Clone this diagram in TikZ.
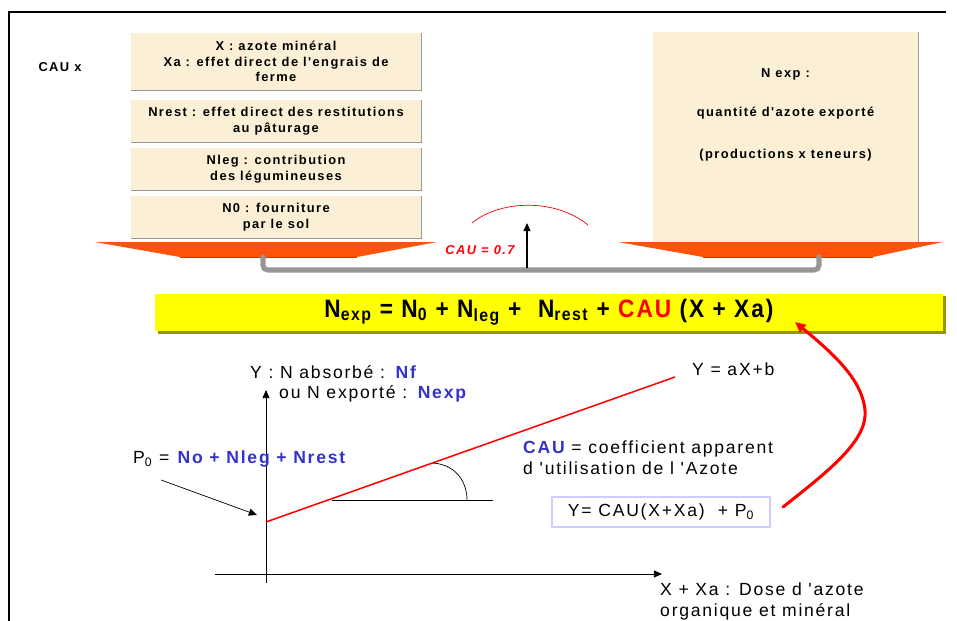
\documentclass[tikz,border=0pt]{standalone}
\usepackage{fontspec}
\setmainfont{Liberation Sans}
\newfontfamily\spacedfont[LetterSpace=11]{Liberation Sans}
\newfontfamily\widefont[LetterSpace=10]{Liberation Sans}
\newfontfamily\narrowfont[FakeStretch=0.9,LetterSpace=8]{Liberation Sans}
\usetikzlibrary{arrows.meta,positioning,backgrounds}

\definecolor{beige}{RGB}{251,240,214}
\definecolor{trayorange}{RGB}{255,82,10}
\definecolor{traydark}{RGB}{200,60,0}
\definecolor{linkgray}{RGB}{150,150,150}
\definecolor{eqyellow}{RGB}{255,255,0}
\definecolor{eqolive}{RGB}{150,150,0}
\definecolor{nblue}{RGB}{51,51,204}
\definecolor{boxlav}{RGB}{204,204,255}

\begin{document}
\begin{tikzpicture}[
  x=0.03cm, y=-0.03cm,
  card/.style={rectangle, fill=beige, minimum width=8.7cm, minimum height=1.26cm, inner sep=1pt,
    align=center, font=\spacedfont\bfseries\fontsize{11}{13.5}\selectfont},
  shade line/.style={draw=black!40, line width=0.8pt},
  tray/.style={fill=trayorange},
  link/.style={draw=linkgray, line width=4.3pt, rounded corners=4pt, line cap=round},
  arrow/.style={->, >={Triangle[length=7pt,width=6pt]}},
  lbl/.style={anchor=west, inner sep=0pt, align=left, font=\widefont\fontsize{15}{18}\selectfont},
  blue/.style={text=nblue}
]
  \useasboundingbox (0,0) rectangle (957,621);
  % frame
  \draw[line width=1.3pt] (9,621) -- (9,12) -- (946,12);

  % left stack of contributions
  \node[card, minimum height=1.71cm] (xbox) at (276,61.5) {X : azote minéral\\Xa : effet direct de l'engrais de\\ferme};
  \node[card] (nrest) at (276,121) {Nrest : effet direct des restitutions\\au pâturage};
  \node[card] (nleg) at (276,169) {Nleg : contribution\\des légumineuses};
  \node[card] (nzero) at (276,217) {N0 : fourniture\\par le sol};
  \node[font=\spacedfont\bfseries\fontsize{11}{13}\selectfont] (caux) at (60,67) {CAU x};

  % exported nitrogen
  \node[card, minimum width=7.95cm, minimum height=6.33cm] (nexp) at (785.5,137.5) {};
  \node[align=center, font=\spacedfont\bfseries\fontsize{11}{13.5}\selectfont] (nexptxt) at (785.5,114.5)
    {N exp :\\[20pt]quantité d'azote exporté\\[22pt](productions x teneurs)};
  \foreach \b in {xbox,nrest,nleg,nzero,nexp}
    \draw[shade line] (\b.south west) -- (\b.south east) -- (\b.north east);

  % balance trays
  \fill[tray] (95,242) -- (437,242) -- (357,257) -- (180,257) -- cycle;
  \fill[tray] (618,242) -- (943,242) -- (873,257) -- (703,257) -- cycle;
  \draw[traydark, line width=0.8pt] (180,257) -- (357,257) (703,257) -- (873,257);
  \coordinate (ltray) at (263,257);
  \coordinate (rtray) at (819,257);
  \draw[link] (ltray) -- ++(0,13) -| (rtray);
  \coordinate (pivot) at (527,268);
  \coordinate (pivtop) at (527,223);
  \draw[arrow, line width=0.9pt] (pivot) -- (pivtop);
  \draw[red, line width=0.6pt] (472,223) .. controls (500,200) and (555,198) .. (588,225);
  \node[text=red, font=\spacedfont\bfseries\itshape\fontsize{11}{13}\selectfont] (cauval) at (480,250) {CAU = 0.7};

  % balance equation
  \node[rectangle, fill=eqyellow, minimum width=23.64cm, minimum height=1.11cm, inner sep=0pt,
    font=\narrowfont\bfseries\fontsize{21.5}{22}\selectfont] (eqn) at (549,312)
    {N\textsubscript{exp} = N\textsubscript{0} + N\textsubscript{leg} + \ N\textsubscript{rest} + \textcolor{red}{CAU} (X + Xa)};
  \begin{scope}[on background layer]
    \fill[eqolive] ([shift={(3,3)}]eqn.north west) rectangle ([shift={(3,3)}]eqn.south east);
  \end{scope}

  % response curve
  \coordinate (xleft) at (215,574);
  \coordinate (xright) at (662,574);
  \coordinate (ylow) at (266,583);
  \coordinate (yhigh) at (266,390);
  \draw[arrow, line width=0.8pt] (xleft) -- (xright);
  \draw[arrow, line width=0.8pt] (ylow) -- (yhigh);
  \coordinate (rstart) at (266,522);
  \coordinate (rend) at (675,377);
  \draw[red, line width=1.3pt] (rstart) -- (rend);
  \coordinate (hstart) at (332,500);
  \coordinate (hend) at (493,500);
  \draw[line width=0.6pt] (hstart) -- (hend);
  \draw[line width=0.6pt] (433,463) .. controls (458,465) and (467,484) .. (467,500);

  \node[lbl] (ylab) at (250,372) {Y : N absorbé : \textbf{\textcolor{nblue}{Nf}}};
  \node[lbl] (ylab2) at (279,394) {ou N exporté : \textbf{\textcolor{nblue}{Nexp}}};
  \node[lbl] (pzero) at (133,459) {P\textsubscript{0} = \textbf{\textcolor{nblue}{No + Nleg + Nrest}}};
  \coordinate (ptail) at (161,480);
  \coordinate (phead) at (257,515);
  \draw[arrow, line width=0.6pt] (ptail) -- (phead);
  \node[lbl] (lineq) at (692,369) {Y = aX+b};
  \node[lbl] (caudef) at (523,458) {\textbf{\textcolor{nblue}{CAU}} = coefficient apparent\\d 'utilisation de l 'Azote};
  \node[lbl, anchor=center, draw=boxlav, line width=1pt, minimum width=6.54cm, minimum height=0.9cm] (yfun) at (661,512)
    {Y= CAU(X+Xa) \ + P\textsubscript{0}};
  \node[lbl] (xlab) at (660,601) {X + Xa : Dose d 'azote\\organique et minéral};

  % link back to equation
  \coordinate (cstart) at (783,507);
  \coordinate (cend) at (795,322);
  \draw[red, line width=2.6pt, line cap=round, -{Triangle[length=9pt,width=8pt]}]
    (cstart) .. controls (830,470) and (868,440) .. (865,410) .. controls (862,380) and (835,355) .. (cend);
\end{tikzpicture}
\end{document}
